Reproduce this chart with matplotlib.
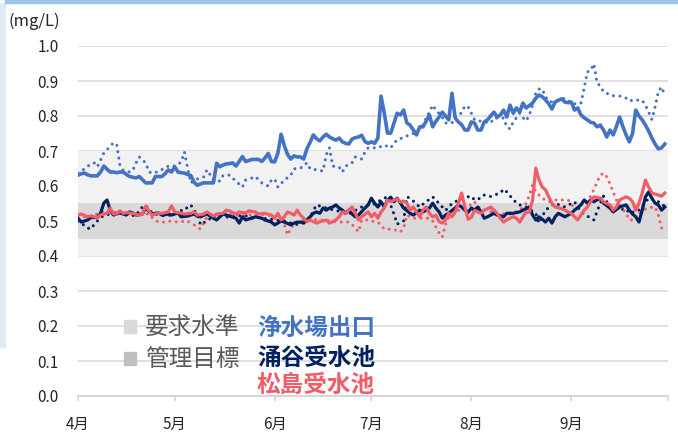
import numpy as np
import pandas as pd
import matplotlib
matplotlib.use('Agg')
import matplotlib.pyplot as plt
from matplotlib.patches import Rectangle

plt.rcParams['font.family'] = ['Noto Sans CJK JP', 'DejaVu Sans']

# daily values, Apr 1 - Sep 30
start = '2023-04-01'
month_labels = ['4月', '5月', '6月', '7月', '8月', '9月', '']
yticks = [0.0, 0.1, 0.2, 0.3, 0.4, 0.5, 0.6, 0.7, 0.8, 0.9, 1.0]
req_band = (0.40, 0.70)   # 要求水準
ctl_band = (0.45, 0.55)   # 管理目標

# 浄水場出口 (this year, solid)
jousui = [
    0.631, 0.635, 0.637, 0.632, 0.629, 0.629, 0.629, 0.640, 0.657, 0.648,
    0.640, 0.640, 0.638, 0.640, 0.640, 0.633, 0.627, 0.625, 0.623, 0.627,
    0.618, 0.609, 0.609, 0.609, 0.627, 0.627, 0.627, 0.635, 0.646, 0.640,
    0.655, 0.640, 0.638, 0.637, 0.633, 0.630, 0.611, 0.602, 0.606, 0.609,
    0.609, 0.609, 0.609, 0.665, 0.655, 0.660, 0.663, 0.664, 0.666, 0.657,
    0.670, 0.684, 0.670, 0.673, 0.676, 0.676, 0.676, 0.670, 0.680, 0.693,
    0.670, 0.669, 0.694, 0.748, 0.715, 0.690, 0.677, 0.686, 0.683, 0.683,
    0.677, 0.706, 0.725, 0.746, 0.735, 0.729, 0.740, 0.748, 0.740, 0.735,
    0.731, 0.737, 0.726, 0.722, 0.720, 0.734, 0.738, 0.740, 0.745, 0.727,
    0.722, 0.726, 0.722, 0.737, 0.857, 0.808, 0.751, 0.751, 0.780, 0.808,
    0.803, 0.817, 0.780, 0.774, 0.760, 0.746, 0.769, 0.769, 0.785, 0.803,
    0.769, 0.785, 0.797, 0.811, 0.800, 0.789, 0.865, 0.794, 0.783, 0.775,
    0.760, 0.760, 0.783, 0.780, 0.760, 0.760, 0.783, 0.789, 0.800, 0.811,
    0.797, 0.803, 0.817, 0.797, 0.831, 0.808, 0.823, 0.811, 0.837, 0.823,
    0.830, 0.837, 0.851, 0.860, 0.855, 0.846, 0.835, 0.820, 0.840, 0.845,
    0.849, 0.840, 0.838, 0.840, 0.817, 0.823, 0.803, 0.795, 0.789, 0.782,
    0.780, 0.769, 0.774, 0.760, 0.740, 0.760, 0.746, 0.770, 0.797, 0.770,
    0.746, 0.726, 0.750, 0.817, 0.800, 0.789, 0.774, 0.757, 0.737, 0.720,
    0.706, 0.709, 0.720,
]

# 浄水場出口 (previous year, dotted)
jousui_prev = [
    0.637, 0.643, 0.649, 0.656, 0.663, 0.666, 0.655, 0.674, 0.694, 0.704,
    0.714, 0.723, 0.720, 0.660, 0.645, 0.642, 0.640, 0.645, 0.666, 0.683,
    0.674, 0.666, 0.640, 0.637, 0.638, 0.643, 0.647, 0.651, 0.657, 0.657,
    0.657, 0.662, 0.668, 0.697, 0.651, 0.609, 0.615, 0.620, 0.623, 0.626,
    0.646, 0.632, 0.617, 0.615, 0.614, 0.630, 0.631, 0.631, 0.622, 0.614,
    0.605, 0.597, 0.617, 0.620, 0.623, 0.627, 0.618, 0.609, 0.604, 0.600,
    0.617, 0.620, 0.597, 0.607, 0.617, 0.624, 0.631, 0.649, 0.650, 0.651,
    0.658, 0.666, 0.649, 0.648, 0.646, 0.644, 0.643, 0.689, 0.709, 0.657,
    0.655, 0.654, 0.640, 0.657, 0.661, 0.666, 0.683, 0.680, 0.677, 0.697,
    0.709, 0.709, 0.709, 0.709, 0.713, 0.717, 0.713, 0.709, 0.723, 0.731,
    0.735, 0.740, 0.743, 0.746, 0.750, 0.754, 0.764, 0.774, 0.794, 0.811,
    0.831, 0.817, 0.807, 0.797, 0.780, 0.780, 0.780, 0.797, 0.803, 0.809,
    0.829, 0.826, 0.808, 0.789, 0.787, 0.785, 0.783, 0.782, 0.780, 0.794,
    0.794, 0.794, 0.794, 0.769, 0.763, 0.783, 0.795, 0.808, 0.795, 0.786,
    0.803, 0.831, 0.866, 0.877, 0.877, 0.854, 0.845, 0.840, 0.842, 0.845,
    0.848, 0.851, 0.844, 0.837, 0.835, 0.834, 0.837, 0.880, 0.926, 0.930,
    0.949, 0.894, 0.886, 0.869, 0.865, 0.860, 0.858, 0.857, 0.857, 0.854,
    0.851, 0.843, 0.845, 0.846, 0.845, 0.845, 0.831, 0.811, 0.790, 0.826,
    0.869, 0.883, 0.860,
]

# 涌谷受水池 (solid)
wakuya = [
    0.508, 0.497, 0.500, 0.503, 0.510, 0.510, 0.510, 0.522, 0.551, 0.560,
    0.531, 0.517, 0.520, 0.523, 0.520, 0.517, 0.526, 0.523, 0.517, 0.518,
    0.520, 0.537, 0.528, 0.520, 0.522, 0.523, 0.517, 0.518, 0.520, 0.517,
    0.520, 0.523, 0.512, 0.513, 0.514, 0.517, 0.520, 0.514, 0.512, 0.516,
    0.520, 0.514, 0.508, 0.503, 0.512, 0.520, 0.517, 0.514, 0.511, 0.508,
    0.494, 0.512, 0.503, 0.506, 0.508, 0.512, 0.510, 0.508, 0.503, 0.500,
    0.497, 0.489, 0.494, 0.500, 0.497, 0.493, 0.489, 0.494, 0.496, 0.497,
    0.494, 0.503, 0.512, 0.522, 0.526, 0.522, 0.537, 0.531, 0.537, 0.540,
    0.546, 0.537, 0.531, 0.522, 0.531, 0.520, 0.512, 0.517, 0.527, 0.537,
    0.546, 0.565, 0.551, 0.540, 0.555, 0.540, 0.560, 0.568, 0.555, 0.565,
    0.551, 0.537, 0.530, 0.522, 0.517, 0.524, 0.531, 0.526, 0.531, 0.537,
    0.551, 0.537, 0.526, 0.508, 0.517, 0.522, 0.530, 0.537, 0.546, 0.540,
    0.531, 0.525, 0.537, 0.531, 0.540, 0.526, 0.508, 0.512, 0.517, 0.522,
    0.517, 0.515, 0.512, 0.522, 0.522, 0.522, 0.524, 0.526, 0.531, 0.535,
    0.540, 0.517, 0.503, 0.512, 0.505, 0.497, 0.508, 0.494, 0.512, 0.522,
    0.517, 0.512, 0.517, 0.522, 0.531, 0.538, 0.546, 0.560, 0.551, 0.560,
    0.555, 0.560, 0.565, 0.551, 0.544, 0.537, 0.526, 0.533, 0.540, 0.543,
    0.546, 0.531, 0.520, 0.512, 0.497, 0.531, 0.569, 0.583, 0.565, 0.551,
    0.546, 0.531, 0.540,
]

# 涌谷受水池 (previous year, dotted)
wakuya_prev = [
    0.500, 0.494, 0.487, 0.480, 0.477, 0.490, 0.500, 0.510, 0.515, 0.518,
    0.520, 0.522, 0.524, 0.525, 0.525, 0.520, 0.518, 0.516, 0.515, 0.530,
    0.540, 0.545, 0.532, 0.524, 0.520, 0.518, 0.516, 0.515, 0.515, 0.520,
    0.524, 0.527, 0.530, 0.530, 0.540, 0.546, 0.530, 0.520, 0.489, 0.495,
    0.500, 0.507, 0.514, 0.518, 0.520, 0.516, 0.512, 0.510, 0.512, 0.514,
    0.515, 0.514, 0.515, 0.512, 0.510, 0.510, 0.510, 0.508, 0.507, 0.506,
    0.505, 0.503, 0.502, 0.501, 0.500, 0.497, 0.494, 0.492, 0.490, 0.495,
    0.500, 0.505, 0.510, 0.530, 0.546, 0.543, 0.540, 0.537, 0.535, 0.532,
    0.530, 0.528, 0.525, 0.522, 0.520, 0.525, 0.530, 0.535, 0.540, 0.543,
    0.546, 0.548, 0.549, 0.555, 0.560, 0.565, 0.569, 0.545, 0.520, 0.491,
    0.496, 0.500, 0.569, 0.565, 0.557, 0.548, 0.540, 0.548, 0.555, 0.562,
    0.569, 0.560, 0.550, 0.540, 0.530, 0.540, 0.550, 0.555, 0.560, 0.563,
    0.566, 0.569, 0.571, 0.560, 0.563, 0.565, 0.574, 0.572, 0.570, 0.573,
    0.577, 0.580, 0.591, 0.583, 0.572, 0.560, 0.553, 0.546, 0.543, 0.540,
    0.534, 0.528, 0.522, 0.494, 0.512, 0.531, 0.538, 0.545, 0.551, 0.547,
    0.544, 0.540, 0.545, 0.550, 0.555, 0.540, 0.526, 0.520, 0.514, 0.508,
    0.503, 0.527, 0.551, 0.571, 0.555, 0.540, 0.537, 0.534, 0.531, 0.533,
    0.535, 0.522, 0.525, 0.528, 0.531, 0.542, 0.553, 0.565, 0.562, 0.560,
    0.555, 0.551, 0.540,
]

# 松島受水池 (solid)
matsushima = [
    0.517, 0.520, 0.516, 0.512, 0.515, 0.512, 0.510, 0.517, 0.520, 0.522,
    0.537, 0.520, 0.520, 0.529, 0.522, 0.524, 0.523, 0.522, 0.519, 0.517,
    0.520, 0.543, 0.529, 0.517, 0.520, 0.522, 0.522, 0.524, 0.526, 0.543,
    0.526, 0.524, 0.522, 0.520, 0.521, 0.522, 0.526, 0.517, 0.518, 0.520,
    0.526, 0.520, 0.514, 0.520, 0.521, 0.522, 0.531, 0.529, 0.524, 0.520,
    0.526, 0.524, 0.523, 0.529, 0.527, 0.526, 0.520, 0.521, 0.522, 0.519,
    0.517, 0.508, 0.522, 0.503, 0.512, 0.526, 0.522, 0.517, 0.531, 0.517,
    0.508, 0.498, 0.503, 0.498, 0.494, 0.498, 0.500, 0.503, 0.494, 0.498,
    0.503, 0.512, 0.526, 0.522, 0.531, 0.540, 0.522, 0.503, 0.512, 0.519,
    0.526, 0.512, 0.522, 0.508, 0.526, 0.537, 0.560, 0.555, 0.560, 0.563,
    0.554, 0.557, 0.551, 0.531, 0.540, 0.526, 0.512, 0.531, 0.540, 0.522,
    0.512, 0.517, 0.498, 0.494, 0.503, 0.522, 0.512, 0.526, 0.551, 0.580,
    0.540, 0.505, 0.510, 0.530, 0.526, 0.522, 0.531, 0.535, 0.540, 0.531,
    0.522, 0.508, 0.497, 0.503, 0.508, 0.512, 0.508, 0.497, 0.512, 0.526,
    0.525, 0.560, 0.651, 0.617, 0.597, 0.589, 0.569, 0.551, 0.540, 0.538,
    0.535, 0.531, 0.526, 0.522, 0.512, 0.503, 0.517, 0.531, 0.540, 0.555,
    0.569, 0.567, 0.565, 0.555, 0.550, 0.546, 0.531, 0.540, 0.560, 0.565,
    0.569, 0.565, 0.555, 0.531, 0.551, 0.580, 0.617, 0.597, 0.580, 0.577,
    0.574, 0.571, 0.580,
]

# 松島受水池 (previous year, dotted)
matsushima_prev = [
    0.515, 0.513, 0.512, 0.510, 0.513, 0.517, 0.520, 0.523, 0.526, 0.528,
    0.530, 0.527, 0.524, 0.522, 0.520, 0.520, 0.520, 0.520, 0.520, 0.520,
    0.520, 0.520, 0.520, 0.510, 0.502, 0.497, 0.497, 0.497, 0.499, 0.500,
    0.498, 0.497, 0.498, 0.499, 0.500, 0.494, 0.489, 0.483, 0.477, 0.495,
    0.510, 0.513, 0.516, 0.518, 0.520, 0.520, 0.520, 0.520, 0.520, 0.518,
    0.517, 0.516, 0.515, 0.516, 0.518, 0.519, 0.520, 0.519, 0.518, 0.516,
    0.515, 0.510, 0.503, 0.497, 0.490, 0.460, 0.480, 0.490, 0.500, 0.501,
    0.502, 0.504, 0.505, 0.504, 0.504, 0.503, 0.503, 0.502, 0.500, 0.499,
    0.498, 0.497, 0.497, 0.497, 0.497, 0.490, 0.480, 0.469, 0.503, 0.503,
    0.503, 0.500, 0.498, 0.497, 0.487, 0.477, 0.477, 0.476, 0.474, 0.474,
    0.469, 0.480, 0.517, 0.512, 0.508, 0.508, 0.508, 0.508, 0.508, 0.508,
    0.500, 0.483, 0.466, 0.454, 0.490, 0.510, 0.515, 0.522, 0.530, 0.535,
    0.538, 0.540, 0.548, 0.555, 0.540, 0.537, 0.533, 0.530, 0.527, 0.523,
    0.520, 0.520, 0.520, 0.520, 0.520, 0.523, 0.527, 0.530, 0.540, 0.550,
    0.574, 0.603, 0.583, 0.574, 0.565, 0.560, 0.555, 0.558, 0.560, 0.560,
    0.560, 0.560, 0.560, 0.551, 0.531, 0.540, 0.548, 0.555, 0.562, 0.570,
    0.589, 0.611, 0.631, 0.637, 0.626, 0.606, 0.583, 0.560, 0.545, 0.533,
    0.522, 0.503, 0.503, 0.503, 0.522, 0.531, 0.534, 0.537, 0.539, 0.540,
    0.517, 0.480, 0.474,
]

BLUE = '#4472C4'
NAVY = '#002060'
RED = '#F25C67'

dates = pd.date_range(start, periods=len(jousui), freq='D')
for s in [jousui_prev, wakuya, wakuya_prev, matsushima, matsushima_prev]:
    assert len(s) == len(dates), len(s)
month_ticks = pd.date_range(start, periods=len(month_labels), freq='MS')

W, H = 678, 433
fig = plt.figure(figsize=(W / 100, H / 100), dpi=100)
ax = fig.add_axes([78 / W, 1 - 396 / H, 590 / W, 350 / H])

# background bands
band_x = [month_ticks[0], month_ticks[-1]]
ax.fill_between(band_x, req_band[0], req_band[1], color='#F2F2F2', lw=0, zorder=1)
ax.fill_between(band_x, ctl_band[0], ctl_band[1], color='#D9D9D9', lw=0, zorder=1.1)

# previous year first, then this year on top
dot = (0, (0.01, 2.1))
ax.plot(dates, jousui_prev, color=BLUE, lw=2.2, ls=dot,
        dash_capstyle='round', zorder=3)
ax.plot(dates, wakuya_prev, color=NAVY, lw=2.2, ls=dot,
        dash_capstyle='round', zorder=3)
ax.plot(dates, matsushima_prev, color=RED, lw=2.2, ls=dot,
        dash_capstyle='round', zorder=3)
ax.plot(dates, jousui, color=BLUE, lw=2.6, zorder=4, solid_joinstyle='round')
ax.plot(dates, wakuya, color=NAVY, lw=2.3, zorder=4, solid_joinstyle='round')
ax.plot(dates, matsushima, color=RED, lw=2.3, zorder=4.1, solid_joinstyle='round')

ax.set_xlim(month_ticks[0], month_ticks[-1])
ax.set_ylim(0, 1.0)
ax.set_yticks(yticks)
ax.set_yticklabels([f'{v:.1f}' for v in yticks])
ax.set_xticks(month_ticks)
ax.set_xticklabels(month_labels)
ax.yaxis.grid(True, color='#D9D9D9', lw=1.1)
ax.set_axisbelow(True)
for side in ['top', 'right', 'left']:
    ax.spines[side].set_visible(False)
ax.spines['bottom'].set_color('#D0D0D0')
ax.spines['bottom'].set_linewidth(1.1)
ax.tick_params(axis='y', length=0, pad=14, labelsize=11, labelcolor='#262626')
ax.tick_params(axis='x', length=3.5, width=1.1, color='#D0D0D0', pad=11,
               labelsize=11, labelcolor='#262626')


def fx(px):
    return px / W


def fy(py):
    return 1 - py / H


fig.text(fx(8), fy(21), '(mg/L)', fontsize=12, color='#262626', va='center')

# legend drawn as text
fig.add_artist(Rectangle((fx(124), fy(333)), 12 / W, 13 / H,
                         color='#D9D9D9', transform=fig.transFigure))
fig.add_artist(Rectangle((fx(124), fy(365)), 12 / W, 13 / H,
                         color='#BFBFBF', transform=fig.transFigure))
fig.text(fx(145), fy(328), '要求水準', fontsize=17, color='#595959', va='center')
fig.text(fx(145), fy(360), '管理目標', fontsize=17, color='#595959', va='center')
fig.text(fx(257), fy(328), '浄水場出口', fontsize=17, color=BLUE,
         fontweight='bold', va='center')
fig.text(fx(257), fy(358), '涌谷受水池', fontsize=17, color=NAVY,
         fontweight='bold', va='center')
fig.text(fx(257), fy(385), '松島受水池', fontsize=17, color=RED,
         fontweight='bold', va='center')

# page frame
fig.add_artist(Rectangle((0, fy(347)), 5 / W, 344 / H, color='#DDEBF7',
                         transform=fig.transFigure))
fig.add_artist(Rectangle((fx(5), fy(3)), 673 / W, 3 / H, color='#9DC3E6',
                         transform=fig.transFigure))

fig.savefig('out.png', dpi=100)
